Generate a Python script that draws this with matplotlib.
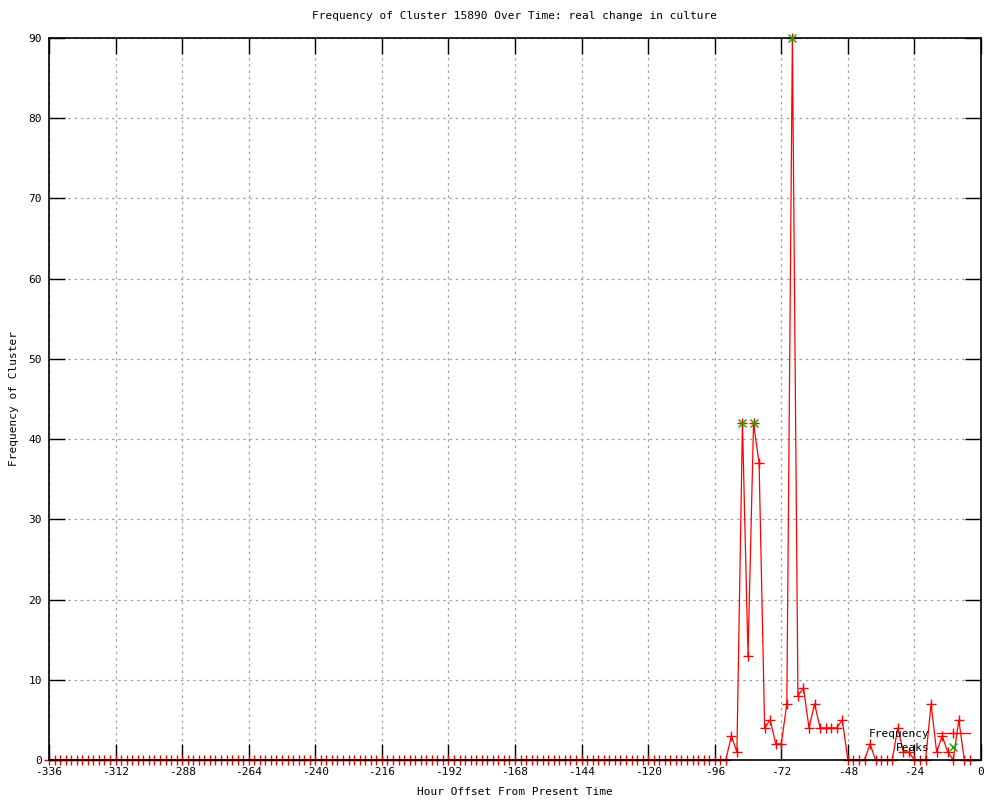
import numpy as np
import matplotlib
matplotlib.use('Agg')
import matplotlib.pyplot as plt

# hour offsets, every 2 hours
hours = list(range(-336, -2, 2))
# non-zero counts; everything else is 0
nonzero = {
    -90: 3, -88: 1, -86: 42, -84: 13, -82: 42, -80: 37, -78: 4, -76: 5,
    -74: 2, -72: 2, -70: 7, -68: 90, -66: 8, -64: 9, -62: 4, -60: 7,
    -58: 4, -56: 4, -54: 4, -52: 4, -50: 5, -40: 2, -30: 4, -28: 1,
    -26: 1, -18: 7, -16: 1, -14: 3, -12: 1, -8: 5,
}
freq = [nonzero.get(h, 0) for h in hours]

peak_hours = [-86, -82, -68]
peak_vals = [42, 42, 90]

x_ticks = list(range(-336, 1, 24))
y_ticks = list(range(0, 91, 10))


def main():
    plt.rcParams['font.family'] = ['DejaVu Sans Mono']
    plt.rcParams['font.size'] = 8
    plt.rcParams['axes.unicode_minus'] = False

    fig = plt.figure(figsize=(10, 8), dpi=100)
    ax = fig.add_axes([0.049, 0.05, 0.932, 0.9025])

    ax.plot(hours, freq, color='red', lw=0.9, marker='+', ms=7, mew=1.0,
            label='Frequency', clip_on=False, zorder=2)
    ax.plot(peak_hours, peak_vals, ls='none', color='#00b000', marker='x',
            ms=6, mew=1.0, label='Peaks', clip_on=False, zorder=4)

    ax.set_xlim(-336, 0)
    ax.set_ylim(0, 90)
    ax.set_xticks(x_ticks)
    ax.set_yticks(y_ticks)
    ax.tick_params(direction='in', length=11.5, width=1, top=True, right=True,
                   labeltop=False, labelright=False, pad=5)
    ax.grid(True, color='#a0a0a0', ls=(0, (2, 3)), lw=0.9)
    for s in ax.spines.values():
        s.set_linewidth(1.2)
        s.set_zorder(3)

    ax.set_title('Frequency of Cluster 15890 Over Time: real change in culture',
                 fontsize=8, pad=14)
    ax.set_xlabel('Hour Offset From Present Time', labelpad=7)
    ax.set_ylabel('Frequency of Cluster', labelpad=7)

    ax.legend(loc='lower right', bbox_to_anchor=(1.0, -0.006),
              frameon=False, markerfirst=False, handlelength=3.0,
              handletextpad=0.6, labelspacing=0.35, borderaxespad=0.6)

    fig.savefig('out.png', dpi=100)


if __name__ == '__main__':
    main()
